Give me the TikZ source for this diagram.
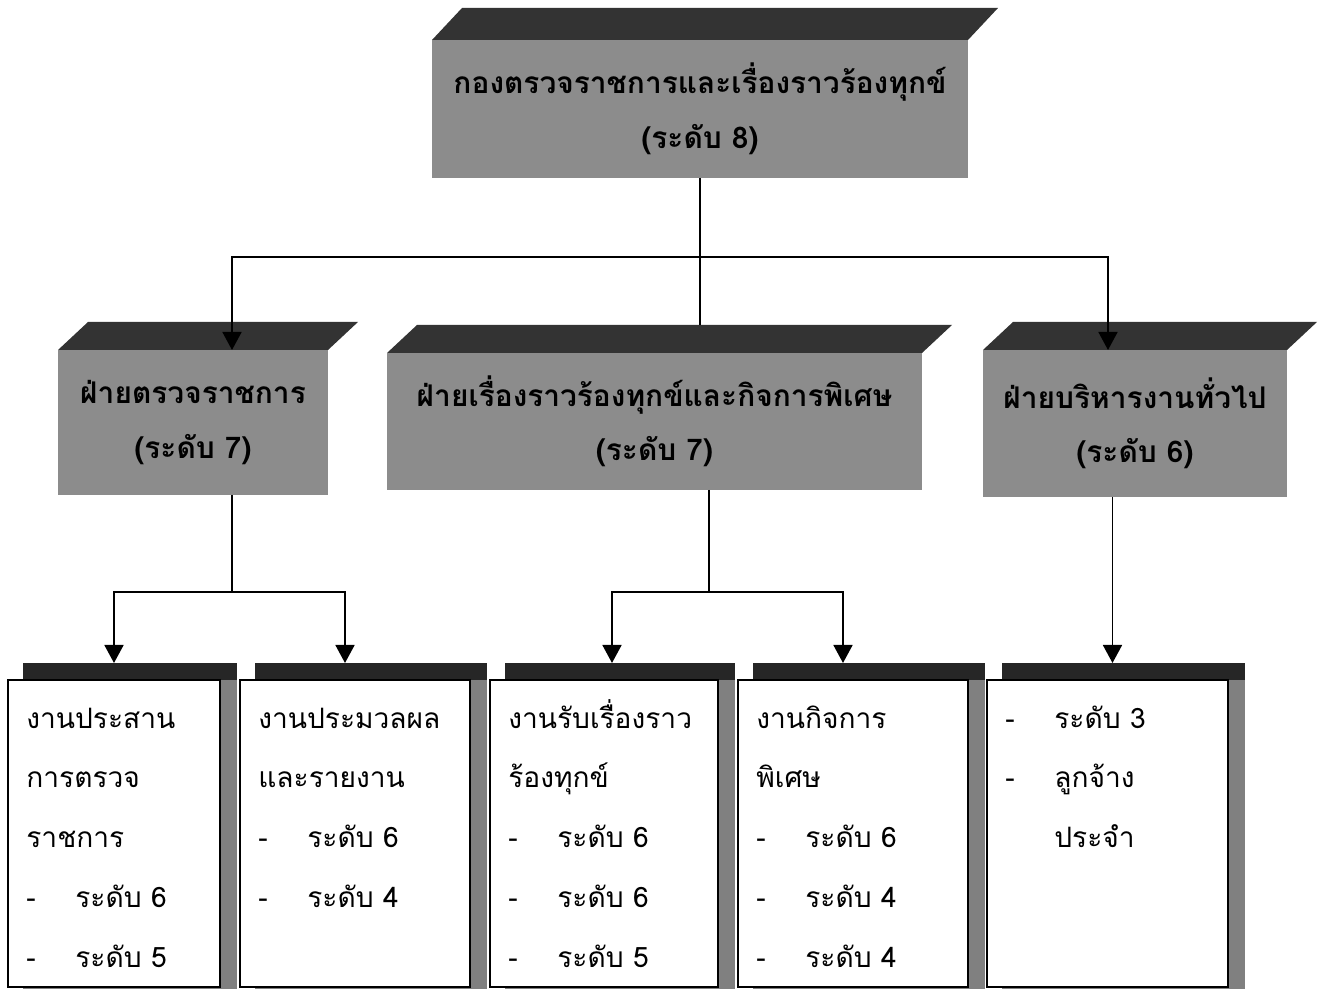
\documentclass[tikz,border=0pt]{standalone}
\usepackage{fontspec}
\newfontfamily\thaifont[Script=Thai]{Loma}
\usetikzlibrary{arrows.meta}
\newcommand{\leafdash}{\makebox[0.98cm][l]{-}}
\tikzset{
  headbox/.style={fill=black!45, inner sep=0pt, outer sep=0pt, align=center,
    font=\thaifont\bfseries\fontsize{17}{31}\selectfont},
  roof/.style={fill=black!80},
  leaf/.style={draw, line width=1.6pt, fill=white, anchor=north west,
    minimum height=6.14cm, inner sep=0pt, outer sep=0pt},
  leaftext/.style={anchor=north west, inner sep=0pt, align=left,
    font=\thaifont\fontsize{16}{34}\selectfont},
  line/.style={line width=1pt},
  arr/.style={line width=1pt, -{Triangle[width=0.38cm,length=0.36cm]}}
}
\begin{document}
\begin{tikzpicture}[scale=1.0]
\clip (0,0) rectangle (26.6,19.78);
% header
\node[headbox, minimum width=10.72cm, minimum height=2.76cm] (kong) at (14.0,17.6)
  {กองตรวจราชการและเรื่องราวร้องทุกข์\\(ระดับ 8)};
\fill[roof] (kong.north west) -- ++(0.6,0.64) -- ([shift={(0.6,0.64)}]kong.north east) -- (kong.north east) -- cycle;
% divisions
\node[headbox, minimum width=5.4cm, minimum height=2.9cm] (fayA) at (3.86,11.33)
  {ฝ่ายตรวจราชการ\\(ระดับ 7)};
\node[headbox, minimum width=10.7cm, minimum height=2.74cm] (fayB) at (13.09,11.35)
  {ฝ่ายเรื่องราวร้องทุกข์และกิจการพิเศษ\\(ระดับ 7)};
\node[headbox, minimum width=6.08cm, minimum height=2.94cm] (fayC) at (22.7,11.31)
  {ฝ่ายบริหารงานทั่วไป\\(ระดับ 6)};
\fill[roof] (fayA.north west) -- ++(0.6,0.56) -- ([shift={(0.6,0.56)}]fayA.north east) -- (fayA.north east) -- cycle;
\fill[roof] (fayB.north west) -- ++(0.6,0.56) -- ([shift={(0.6,0.56)}]fayB.north east) -- (fayB.north east) -- cycle;
\fill[roof] (fayC.north west) -- ++(0.6,0.56) -- ([shift={(0.6,0.56)}]fayC.north east) -- (fayC.north east) -- cycle;
% header -> divisions
\coordinate (jT) at ([yshift=-1.58cm]kong.south);
\draw[line] (kong.south) -- (jT);
\draw[arr] (jT) -| ([xshift=0.78cm]fayA.north);
\draw[line] (jT) -- ([yshift=0.56cm]jT |- fayB.north);
\draw[arr] (jT) -| ([xshift=-0.54cm]fayC.north);
% sections
\fill[black!50] (0.46,6.52) rectangle (4.74,-0.1);
\fill[black!85] (0.46,6.52) rectangle (4.74,6.18);
\fill[black!50] (5.1,6.52) rectangle (9.74,-0.1);
\fill[black!85] (5.1,6.52) rectangle (9.74,6.18);
\fill[black!50] (10.1,6.52) rectangle (14.7,-0.1);
\fill[black!85] (10.1,6.52) rectangle (14.7,6.18);
\fill[black!50] (15.06,6.52) rectangle (19.7,-0.1);
\fill[black!85] (15.06,6.52) rectangle (19.7,6.18);
\fill[black!50] (20.04,6.52) rectangle (24.9,-0.1);
\fill[black!85] (20.04,6.52) rectangle (24.9,6.18);
\node[leaf, minimum width=4.24cm] (b1) at (0.16,6.18) {};
\node[leaf, minimum width=4.6cm] (b2) at (4.8,6.18) {};
\node[leaf, minimum width=4.56cm] (b3) at (9.8,6.18) {};
\node[leaf, minimum width=4.6cm] (b4) at (14.76,6.18) {};
\node[leaf, minimum width=4.82cm] (b5) at (19.74,6.18) {};
\node[leaftext] (t1) at ([xshift=0.36cm,yshift=-0.12cm]b1.north west)
  {\strut งานประสาน\\\strut การตรวจ\\\strut ราชการ\\\strut\leafdash ระดับ 6\\\strut\leafdash ระดับ 5};
\node[leaftext] (t2) at ([xshift=0.36cm,yshift=-0.12cm]b2.north west)
  {\strut งานประมวลผล\\\strut และรายงาน\\\strut\leafdash ระดับ 6\\\strut\leafdash ระดับ 4};
\node[leaftext] (t3) at ([xshift=0.36cm,yshift=-0.12cm]b3.north west)
  {\strut งานรับเรื่องราว\\\strut ร้องทุกข์\\\strut\leafdash ระดับ 6\\\strut\leafdash ระดับ 6\\\strut\leafdash ระดับ 5};
\node[leaftext] (t4) at ([xshift=0.36cm,yshift=-0.12cm]b4.north west)
  {\strut งานกิจการ\\\strut พิเศษ\\\strut\leafdash ระดับ 6\\\strut\leafdash ระดับ 4\\\strut\leafdash ระดับ 4};
\node[leaftext] (t5) at ([xshift=0.36cm,yshift=-0.12cm]b5.north west)
  {\strut\leafdash ระดับ 3\\\strut\leafdash ลูกจ้าง\\\strut\hspace*{0.98cm}ประจำ};
% divisions -> sections
\coordinate (jA) at (4.64,7.94);
\draw[line] (jA |- fayA.south) -- (jA);
\draw[arr] (jA) -| ([yshift=0.34cm]b1.north);
\draw[arr] (jA) -| ([xshift=-0.2cm,yshift=0.34cm]b2.north);
\coordinate (jB) at (14.18,7.94);
\draw[line] (jB |- fayB.south) -- (jB);
\draw[arr] (jB) -| ([xshift=0.16cm,yshift=0.34cm]b3.north);
\draw[arr] (jB) -| ([xshift=-0.2cm,yshift=0.34cm]b4.north);
\coordinate (b5in) at ([xshift=0.1cm,yshift=0.34cm]b5.north);
\draw[arr] (b5in |- fayC.south) -- (b5in);
\end{tikzpicture}
\end{document}
